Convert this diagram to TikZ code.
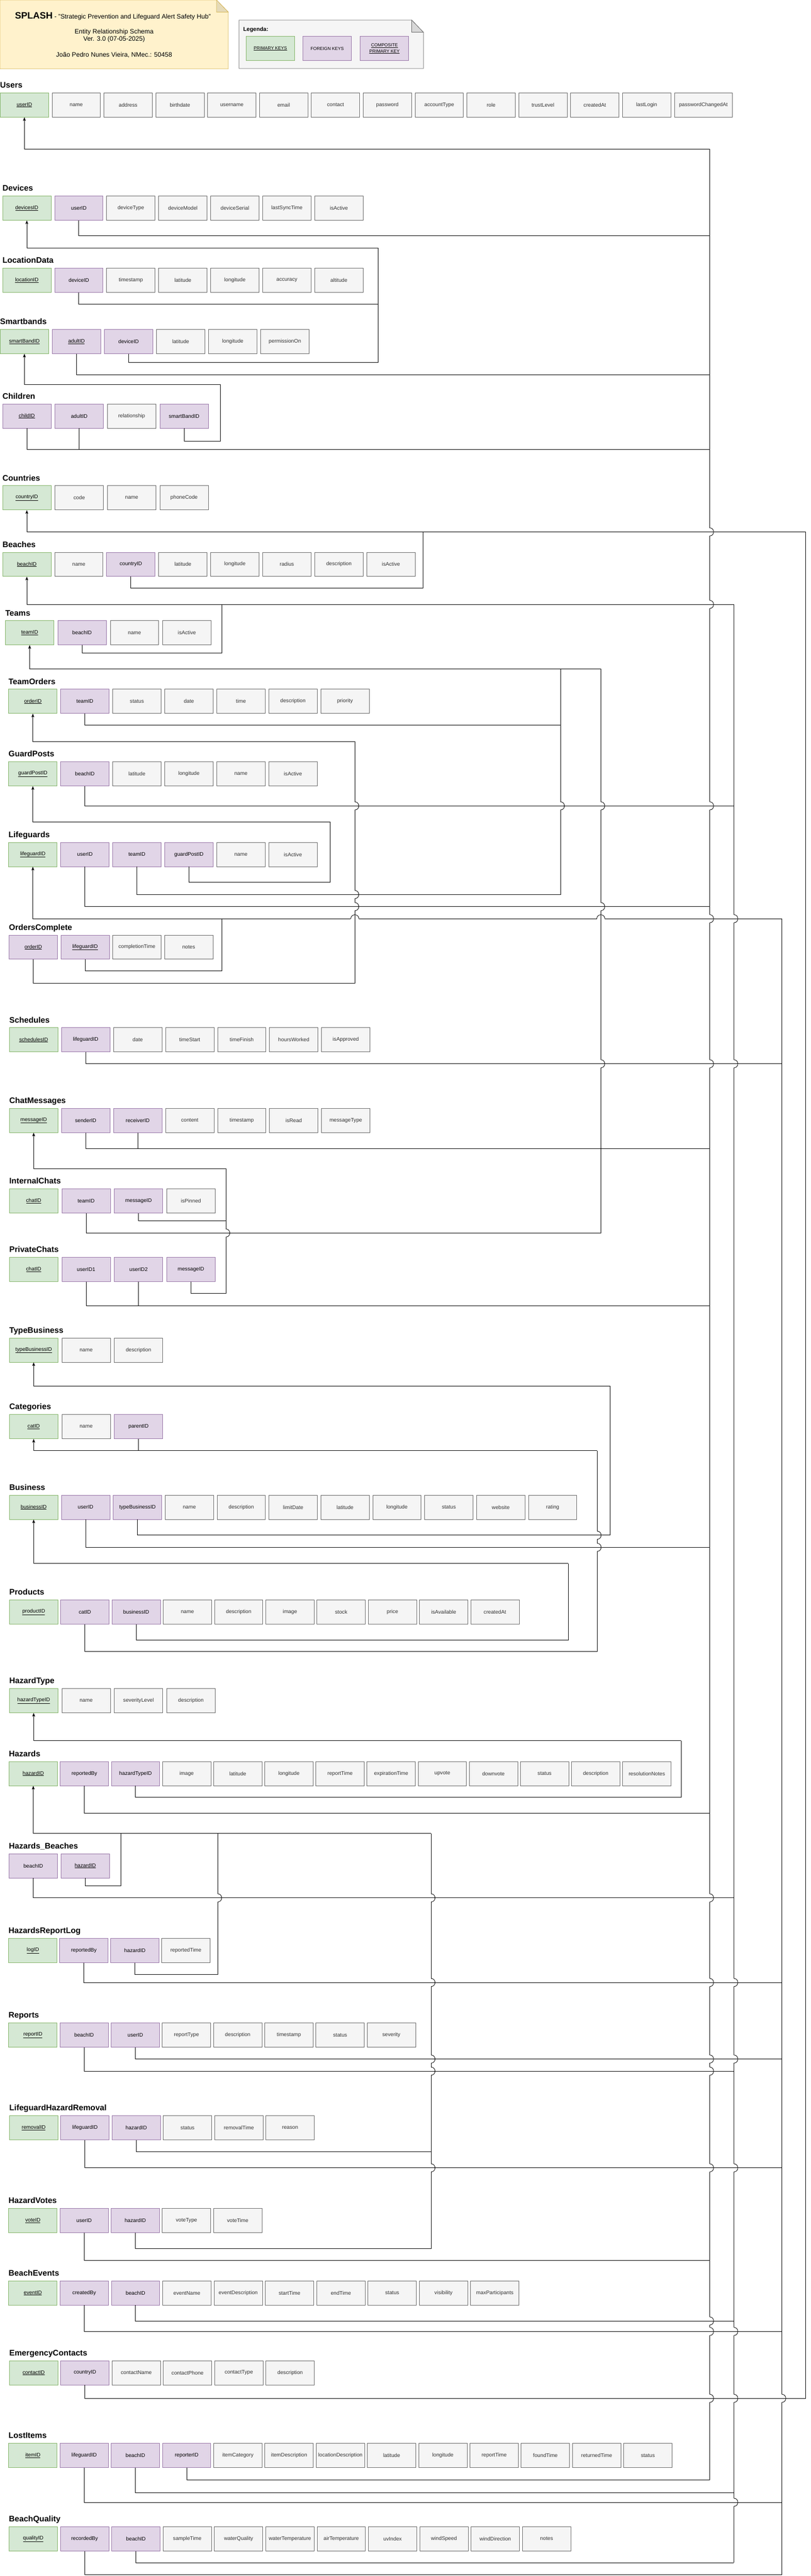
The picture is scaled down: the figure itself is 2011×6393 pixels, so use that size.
\documentclass[tikz,border=0pt]{standalone}
\usepackage{fontspec}
\setmainfont{Liberation Sans}
\usetikzlibrary{arrows.meta}

\definecolor{pkfill}{HTML}{D5E8D4}
\definecolor{pkdraw}{HTML}{82B366}
\definecolor{fkfill}{HTML}{E1D5E7}
\definecolor{fkdraw}{HTML}{9673A6}
\definecolor{attfill}{HTML}{F5F5F5}
\definecolor{attdraw}{HTML}{666666}
\definecolor{atttext}{HTML}{333333}
\definecolor{notefill}{HTML}{FFF2CC}
\definecolor{notedraw}{HTML}{D6B656}

\newcommand{\ertable}[6]{%
  \node[tablelabel] (#1-label) at (#3,#4-12) {#2};
  \foreach \kind/\field [count=\i] in {#6} {
    \node[\kind] (#1-\i) at ({#3+(\i-1)*#5},#4) {\field};
  }
}
\newcommand{\vhop}[2]{%
  \fill[white] (#1-2.5,#2-10) rectangle (#1+2.5,#2+10);
  \draw[fkline] (#1-4,#2) -- (#1+4,#2);
  \draw[fkline] (#1,#2-10) .. controls +(13,0) and +(13,0) .. (#1,#2+10);
}
\newcommand{\hhop}[2]{%
  \fill[white] (#1-10,#2-2.5) rectangle (#1+10,#2+2.5);
  \draw[fkline] (#1,#2-4) -- (#1,#2+4);
  \draw[fkline] (#1-10,#2) .. controls +(0,-13) and +(0,-13) .. (#1+10,#2);
}

\begin{document}
\begin{tikzpicture}[x=1pt, y=-1pt,
    cell/.style = {rectangle, anchor=north west, minimum width=120pt,
        minimum height=60pt, inner sep=0pt, line width=1pt,
        font=\fontsize{13}{15}\selectfont},
    pk/.style = {cell, fill=pkfill, draw=pkdraw},
    fk/.style = {cell, fill=fkfill, draw=fkdraw},
    att/.style = {cell, fill=attfill, draw=attdraw, text=atttext},
    attw/.style = {att, minimum width=144pt},
    legendbox/.style = {font=\fontsize{11}{15}\selectfont, align=center},
    tablelabel/.style = {anchor=base west, inner sep=0pt,
        font=\fontsize{20}{24}\selectfont\bfseries},
    subline/.style = {inner sep=0pt, font=\fontsize{16}{19}\selectfont},
    fkline/.style = {draw=black, line width=1.1pt},
    pkline/.style = {fkline, -{Stealth[length=9pt, width=7pt, inset=2pt]}}]
    \useasboundingbox (0,0) rectangle (2011,6393);

    % header and legend
    \draw[fill=notefill, draw=notedraw, line width=1pt]
        (0,0) -- (537,0) -- (566,30) -- (566,171) -- (0,171) -- cycle;
    \draw[fill=notefill!90!black, draw=notedraw, line width=1pt]
        (537,0) -- (537,30) -- (566,30) -- cycle;
    \node[inner sep=0pt] (title) at (280,40)
        {{\fontsize{23}{27}\selectfont\bfseries SPLASH}\fontsize{16}{19}\selectfont\ - "Strategic Prevention and Lifeguard Alert Safety Hub"};
    \node[subline] (schema) at (283,79) {Entity Relationship Schema};
    \node[subline] (version) at (283,98) {Ver. 3.0 (07-05-2025)};
    \node[subline] (author) at (283,136) {João Pedro Nunes Vieira, NMec.: 50458};

    \draw[fill=attfill, draw=attdraw, line width=1pt]
        (593,50) -- (1021,50) -- (1050,80) -- (1050,170) -- (593,170) -- cycle;
    \draw[fill=attfill!88!black, draw=attdraw, line width=1pt]
        (1021,50) -- (1021,80) -- (1050,80) -- cycle;
    \node[anchor=west, inner sep=0pt, font=\fontsize{14}{17}\selectfont\bfseries]
        (legend) at (603,74) {Legenda:};
    \node[pk, legendbox] (legend-pk) at (610,90) {\underline{PRIMARY KEYS}};
    \node[fk, legendbox] (legend-fk) at (751,90) {FOREIGN KEYS};
    \node[fk, legendbox] (legend-cpk) at (893,90) {\underline{COMPOSITE}\\\underline{PRIMARY KEY}};

    % tables
    \ertable{users}{Users}{0}{230}{128.6}{pk/\underline{userID}, att/name, att/address,
        att/birthdate, att/username, att/email, att/contact, att/password, att/accountType,
        att/role, att/trustLevel, att/createdAt, att/lastLogin, attw/passwordChangedAt}
    \ertable{devices}{Devices}{6}{486}{129}{pk/\underline{devicesID}, fk/userID,
        att/deviceType, att/deviceModel, att/deviceSerial, att/lastSyncTime, att/isActive}
    \ertable{locationdata}{LocationData}{6}{665}{129}{pk/\underline{locationID}, fk/deviceID,
        att/timestamp, att/latitude, att/longitude, att/accuracy, att/altitude}
    \ertable{smartbands}{Smartbands}{0}{817}{129.2}{pk/\underline{smartBandID},
        fk/\underline{adultID}, fk/deviceID, att/latitude, att/longitude, att/permissionOn}
    \ertable{children}{Children}{6}{1002}{130}{fk/\underline{childID}, fk/adultID,
        att/relationship, fk/smartBandID}
    \ertable{countries}{Countries}{6}{1205}{130}{pk/\underline{countryID}, att/code,
        att/name, att/phoneCode}
    \ertable{beaches}{Beaches}{6}{1370}{129}{pk/\underline{beachID}, att/name, fk/countryID,
        att/latitude, att/longitude, att/radius, att/description, att/isActive}
    \ertable{teams}{Teams}{13}{1540}{130}{pk/\underline{teamID}, fk/beachID, att/name,
        att/isActive}
    \ertable{teamorders}{TeamOrders}{21}{1710}{129}{pk/\underline{orderID}, fk/teamID,
        att/status, att/date, att/time, att/description, att/priority}
    \ertable{guardposts}{GuardPosts}{21}{1890}{129}{pk/\underline{guardPostID}, fk/beachID,
        att/latitude, att/longitude, att/name, att/isActive}
    \ertable{lifeguards}{Lifeguards}{21}{2090}{129}{pk/\underline{lifeguardID}, fk/userID,
        fk/teamID, fk/guardPostID, att/name, att/isActive}
    \ertable{orderscomplete}{OrdersComplete}{22}{2320}{128.5}{fk/\underline{orderID},
        fk/\underline{lifeguardID}, att/completionTime, att/notes}
    \ertable{schedules}{Schedules}{23}{2550}{129}{pk/\underline{schedulesID}, fk/lifeguardID,
        att/date, att/timeStart, att/timeFinish, att/hoursWorked, att/isApproved}
    \ertable{messages}{ChatMessages}{23}{2750}{129}{pk/\underline{messageID}, fk/senderID,
        fk/receiverID, att/content, att/timestamp, att/isRead, att/messageType}
    \ertable{internalchats}{InternalChats}{23}{2950}{130}{pk/\underline{chatID}, fk/teamID,
        fk/messageID, att/isPinned}
    \ertable{privatechats}{PrivateChats}{23}{3120}{130}{pk/\underline{chatID}, fk/userID1,
        fk/userID2, fk/messageID}
    \ertable{typebusiness}{TypeBusiness}{23}{3320}{130}{pk/\underline{typeBusinessID},
        att/name, att/description}
    \ertable{categories}{Categories}{23}{3510}{130}{pk/\underline{catID}, att/name,
        fk/parentID}
    \ertable{business}{Business}{23}{3710}{128.7}{pk/\underline{businessID}, fk/userID,
        fk/typeBusinessID, att/name, att/description, att/limitDate, att/latitude,
        att/longitude, att/status, att/website, att/rating}
    \ertable{products}{Products}{23}{3970}{127.1}{pk/\underline{productID}, fk/catID,
        fk/businessID, att/name, att/description, att/image, att/stock, att/price,
        att/isAvailable, att/createdAt}
    \ertable{hazardtype}{HazardType}{23}{4190}{130}{pk/\underline{hazardTypeID}, att/name,
        att/severityLevel, att/description}
    \ertable{hazards}{Hazards}{22}{4371}{126.8}{pk/\underline{hazardID}, fk/reportedBy,
        fk/hazardTypeID, att/image, att/latitude, att/longitude, att/reportTime,
        att/expirationTime, att/upvote, att/downvote, att/status, att/description,
        att/resolutionNotes}
    \ertable{hazardsbeaches}{Hazards\_Beaches}{22}{4600}{129}{fk/beachID,
        fk/\underline{hazardID}}
    \ertable{hazardsreportlog}{HazardsReportLog}{21}{4810}{126.5}{pk/\underline{logID},
        fk/reportedBy, fk/hazardID, att/reportedTime}
    \ertable{reports}{Reports}{21}{5020}{127}{pk/\underline{reportID}, fk/beachID, fk/userID,
        att/reportType, att/description, att/timestamp, att/status, att/severity}
    \ertable{hazardremoval}{LifeguardHazardRemoval}{23}{5250}{127.2}{pk/\underline{removalID},
        fk/lifeguardID, fk/hazardID, att/status, att/removalTime, att/reason}
    \ertable{hazardvotes}{HazardVotes}{21}{5480}{127}{pk/\underline{voteID}, fk/userID,
        fk/hazardID, att/voteType, att/voteTime}
    \ertable{beachevents}{BeachEvents}{21}{5660}{127.3}{pk/\underline{eventID}, fk/createdBy,
        fk/beachID, att/eventName, att/eventDescription, att/startTime, att/endTime,
        att/status, att/visibility, att/maxParticipants}
    \ertable{emergencycontacts}{EmergencyContacts}{23}{5858}{127.2}{pk/\underline{contactID},
        fk/countryID, att/contactName, att/contactPhone, att/contactType, att/description}
    \ertable{lostitems}{LostItems}{21}{6063}{127.1}{pk/\underline{itemID}, fk/lifeguardID,
        fk/beachID, fk/reporterID, att/itemCategory, att/itemDescription,
        att/locationDescription, att/latitude, att/longitude, att/reportTime,
        att/foundTime, att/returnedTime, att/status}
    \ertable{beachquality}{BeachQuality}{22}{6270}{127.3}{pk/\underline{qualityID},
        fk/recordedBy, fk/beachID, att/sampleTime, att/waterQuality, att/waterTemperature,
        att/airTemperature, att/uvIndex, att/windSpeed, att/windDirection, att/notes}

    % users
    \coordinate (users-bus) at (1760,370);
    \draw[pkline] (users-bus) -| (users-1.south);
    \draw[fkline] (users-bus) -- (users-bus |- 0,6155);
    \draw[fkline] (devices-2.south) |- (users-bus |- 0,585);
    \draw[fkline] (smartbands-2.south) |- (users-bus |- 0,930);
    \draw[fkline] (children-1.south) |- (users-bus |- 0,1115);
    \draw[fkline] (children-2.south) -- (children-2.south |- 0,1115);
    \draw[fkline] (lifeguards-2.south) |- (users-bus |- 0,2250);
    \draw[fkline] (messages-2.south) |- (users-bus |- 0,2850);
    \draw[fkline] (messages-3.south) -- (messages-3.south |- 0,2850);
    \draw[fkline] (privatechats-2.south) |- (users-bus |- 0,3240);
    \draw[fkline] (privatechats-3.south) -- (privatechats-3.south |- 0,3240);
    \draw[fkline] (business-2.south) |- (users-bus |- 0,3840);
    \draw[fkline] (hazards-2.south) |- (users-bus |- 0,4500);
    \draw[fkline] (hazardvotes-2.south) |- (users-bus |- 0,5610);
    \draw[fkline] (lostitems-4.south) |- (users-bus |- 0,6155);

    % devices
    \coordinate (devices-bus) at (938,615);
    \draw[pkline] (devices-bus) -| (devices-1.south);
    \draw[fkline] (locationdata-2.south) |- (devices-bus |- 0,755);
    \draw[fkline] (smartbands-3.south) |- (devices-bus |- 0,900) -- (devices-bus);

    % smartbands
    \coordinate (smartbands-bus) at (547,955);
    \draw[pkline] (smartbands-bus) -| (smartbands-1.south);
    \draw[fkline] (children-4.south) |- (smartbands-bus |- 0,1095) -- (smartbands-bus);

    % countries
    \coordinate (countries-bus) at (1998,1320);
    \coordinate (countries-beach) at (1049,1320);
    \draw[pkline] (countries-bus) -| (countries-1.south);
    \draw[fkline] (countries-bus) -- (countries-bus |- 0,5952);
    \draw[fkline] (beaches-3.south) |- (countries-beach |- 0,1460) -- (countries-beach);
    \draw[fkline] (emergencycontacts-2.south) |- (countries-bus |- 0,5952);

    % beaches
    \coordinate (beaches-bus) at (1820,1500);
    \coordinate (beaches-team) at (550,1500);
    \draw[pkline] (beaches-bus) -| (beaches-1.south);
    \draw[fkline] (beaches-bus) -- (beaches-bus |- 0,6360);
    \draw[fkline] (teams-2.south) |- (beaches-team |- 0,1620) -- (beaches-team);
    \draw[fkline] (guardposts-2.south) |- (beaches-bus |- 0,2000);
    \draw[fkline] (hazardsbeaches-1.south) |- (beaches-bus |- 0,4710);
    \draw[fkline] (reports-2.south) |- (beaches-bus |- 0,5140);
    \draw[fkline] (beachevents-3.south) |- (beaches-bus |- 0,5760);
    \draw[fkline] (lostitems-3.south) |- (beaches-bus |- 0,6186);
    \draw[fkline] (beachquality-3.south) |- (beaches-bus |- 0,6360);

    % teams
    \coordinate (teams-bus) at (1490,1660);
    \coordinate (teams-order) at (1390,1660);
    \draw[pkline] (teams-bus) -| (teams-1.south);
    \draw[fkline] (internalchats-2.south) |- (teams-bus |- 0,3060) -- (teams-bus);
    \draw[fkline] (teamorders-2.south) |- (teams-order |- 0,1800);
    \draw[fkline] (lifeguards-3.south) |- (teams-order |- 0,2220) -- (teams-order);

    % team orders
    \coordinate (orders-bus) at (880,1840);
    \draw[pkline] (orders-bus) -| (teamorders-1.south);
    \draw[fkline] (orderscomplete-1.south) |- (orders-bus |- 0,2440) -- (orders-bus);

    % guard posts
    \coordinate (guardposts-bus) at (819,2040);
    \draw[pkline] (guardposts-bus) -| (guardposts-1.south);
    \draw[fkline] (lifeguards-4.south) |- (guardposts-bus |- 0,2190) -- (guardposts-bus);

    % lifeguards
    \coordinate (lifeguards-bus) at (1939,2280);
    \coordinate (lifeguards-order) at (550,2280);
    \draw[pkline] (lifeguards-bus) -| (lifeguards-1.south);
    \draw[fkline] (lifeguards-bus) -- (lifeguards-bus |- 0,6389);
    \draw[fkline] (orderscomplete-2.south) |- (lifeguards-order |- 0,2410) -- (lifeguards-order);
    \draw[fkline] (schedules-2.south) |- (lifeguards-bus |- 0,2640);
    \draw[fkline] (hazardsreportlog-2.south) |- (lifeguards-bus |- 0,4920);
    \draw[fkline] (reports-3.south) |- (lifeguards-bus |- 0,5110);
    \draw[fkline] (hazardremoval-2.south) |- (lifeguards-bus |- 0,5380);
    \draw[fkline] (beachevents-2.south) |- (lifeguards-bus |- 0,5786);
    \draw[fkline] (lostitems-2.south) |- (lifeguards-bus |- 0,6210);
    \draw[fkline] (beachquality-2.south) |- (lifeguards-bus |- 0,6389);

    % chat messages
    \coordinate (messages-bus) at (560,2900);
    \draw[pkline] (messages-bus) -| (messages-1.south);
    \draw[fkline] (internalchats-3.south) |- (messages-bus |- 0,3030);
    \draw[fkline] (privatechats-4.south) |- (messages-bus |- 0,3210) -- (messages-bus);

    % business types, categories, business
    \coordinate (typebusiness-bus) at (1513,3440);
    \draw[pkline] (typebusiness-bus) -| (typebusiness-1.south);
    \draw[fkline] (business-3.south) |- (typebusiness-bus |- 0,3810) -- (typebusiness-bus);
    \coordinate (categories-bus) at (1481,3600);
    \draw[pkline] (categories-bus) -| (categories-1.south);
    \draw[fkline] (categories-3.south) -- (categories-3.south |- 0,3600);
    \draw[fkline] (products-2.south) |- (categories-bus |- 0,4099) -- (categories-bus);
    \coordinate (business-bus) at (1409,3880);
    \draw[pkline] (business-bus) -| (business-1.south);
    \draw[fkline] (products-3.south) |- (business-bus |- 0,4070) -- (business-bus);

    % hazards
    \coordinate (hazardtype-bus) at (1689,4320);
    \draw[pkline] (hazardtype-bus) -| (hazardtype-1.south);
    \draw[fkline] (hazards-3.south) |- (hazardtype-bus |- 0,4460) -- (hazardtype-bus);
    \coordinate (hazards-bus) at (1069,4550);
    \coordinate (hazards-beach) at (300,4550);
    \coordinate (hazards-log) at (540,4550);
    \draw[pkline] (hazards-bus) -| (hazards-1.south);
    \draw[fkline] (hazardsbeaches-2.south) |- (hazards-beach |- 0,4680) -- (hazards-beach);
    \draw[fkline] (hazardsreportlog-3.south) |- (hazards-log |- 0,4900) -- (hazards-log);
    \draw[fkline] (hazardremoval-3.south) |- (hazards-bus |- 0,5340);
    \draw[fkline] (hazardvotes-3.south) |- (hazards-bus |- 0,5580) -- (hazards-bus);

    % line jumps
    \vhop{1760}{1320} \vhop{1760}{1500} \vhop{1760}{2000} \vhop{1760}{2280}
    \vhop{1760}{2640} \vhop{1760}{4710} \vhop{1760}{4920} \vhop{1760}{5110}
    \vhop{1760}{5140} \vhop{1760}{5380} \vhop{1760}{5760} \vhop{1760}{5786}
    \vhop{1760}{5952}
    \vhop{1820}{2280} \vhop{1820}{2640} \vhop{1820}{4920} \vhop{1820}{5110}
    \vhop{1820}{5380} \vhop{1820}{5786} \vhop{1820}{5952} \vhop{1820}{6210}
    \vhop{1939}{5952}
    \vhop{880}{2000} \vhop{880}{2220} \vhop{880}{2250} \hhop{880}{2280}
    \vhop{1390}{2000}
    \vhop{1490}{2000} \vhop{1490}{2250} \vhop{1490}{2640} \hhop{1490}{2280}
    \vhop{560}{3060}
    \vhop{1481}{3810} \vhop{1481}{3840}
    \vhop{540}{4710}
    \vhop{1069}{4710} \vhop{1069}{4920} \vhop{1069}{5110} \vhop{1069}{5140}
    \vhop{1069}{5380}
\end{tikzpicture}
\end{document}
